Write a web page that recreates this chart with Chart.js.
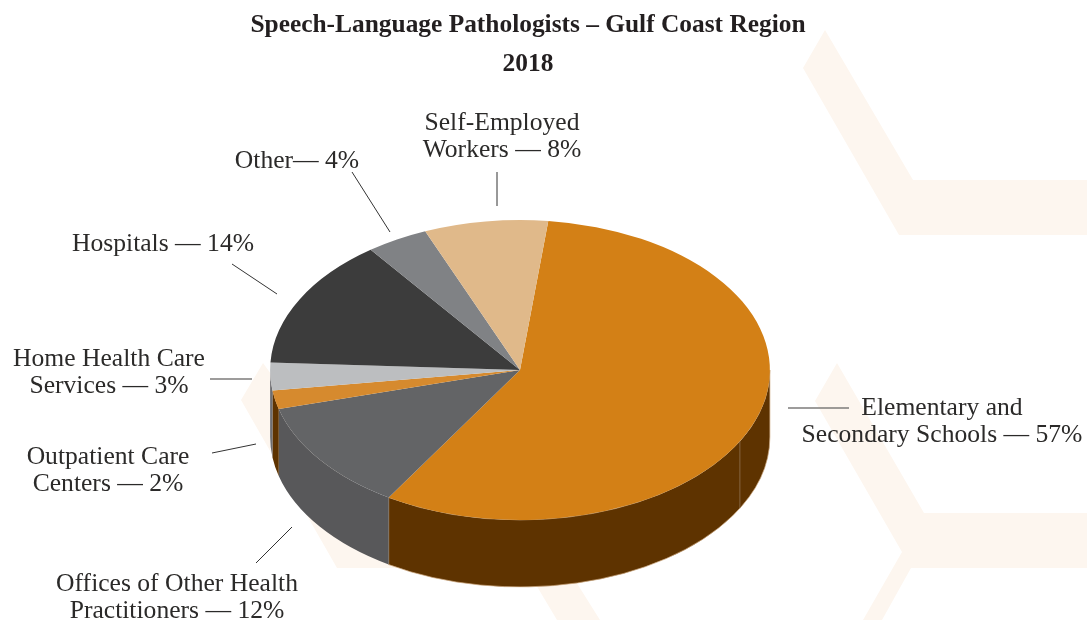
<!DOCTYPE html>
<html>
<head>
<meta charset="utf-8">
<title>Speech-Language Pathologists</title>
<script src="https://cdn.jsdelivr.net/npm/chart.js@4/dist/chart.umd.min.js"></script>
<style>
    html, body { margin: 0; padding: 0; background: #fff; }
    #wrap { position: relative; width: 1087px; height: 620px; overflow: hidden; }
    #wrap svg, #wrap canvas { position: absolute; left: 0; top: 0; }
</style>
</head>
<body>
<div id="wrap">
    <svg width="1087" height="620" fill="#fdf6ef">
        <polygon points="825,30 803,68 899,235 1087,235 1087,180 913,180"/>
        <polygon points="837,363 815,401 902,552 863,620 882,620 911,568 1087,568 1087,513 924,513"/>
        <polygon points="263,363 241,400 337,568 526,568 557,620 600,620 556,550 400,550"/>
    </svg>
    <canvas id="chart" width="1087" height="620"></canvas>
</div>
<script>
const categories = [
    'Elementary and Secondary Schools',
    'Offices of Other Health Practitioners',
    'Outpatient Care Centers',
    'Home Health Care Services',
    'Hospitals',
    'Other',
    'Self-Employed Workers'
];
const shares = [57, 12, 2, 3, 14, 4, 8];
const labelLines = [
    ['Elementary and', 'Secondary Schools — 57%'],
    ['Offices of Other Health', 'Practitioners — 12%'],
    ['Outpatient Care', 'Centers — 2%'],
    ['Home Health Care', 'Services — 3%'],
    ['Hospitals — 14%'],
    ['Other— 4%'],
    ['Self-Employed', 'Workers — 8%']
];
const titleLines = ['Speech-Language Pathologists – Gulf Coast Region', '2018'];

const topColors = ['#d38016', '#636466', '#d68a2e', '#bcbec0', '#3c3c3c', '#808285', '#e0b98a'];
const wallColors = ['#5e3300', '#58585a', '#5e3300', '#6d6e71', '#2a2a2a', '#58585a', '#8a6a40'];

// where each label sits: centre x, first baseline, then its leader line
const labelPlaces = [
    {x: 942, y: 415, line: [788, 408, 849, 408], width: 1.6, color: '#7d7b7a'},
    {x: 177, y: 591, line: [256, 563, 292, 527], width: 1, color: '#333'},
    {x: 108, y: 464, line: [212, 453, 256, 444], width: 1, color: '#333'},
    {x: 109, y: 366, line: [210, 379, 252, 379], width: 1.6, color: '#7d7b7a'},
    {x: 163, y: 251, line: [232, 264, 277, 294], width: 1, color: '#333'},
    {x: 297, y: 168, line: [352, 172, 390, 232], width: 1, color: '#333'},
    {x: 502, y: 130, line: [497, 172, 497, 206], width: 1, color: '#333'}
];

const pieCenter = {x: 520, y: 370};
const squash = 0.6;
const depth = 67;
const wallSeamAngle = 0.495;   // the hairline on the right of the side wall

// tilts the flat pie and puts the side wall under it
const tiltPlugin = {
    id: 'tilt',
    beforeDatasetDraw(chart, args) {
        const ctx = chart.ctx;
        const arcs = args.meta.data;
        const first = arcs[0].getProps(['x', 'y']);
        const radius = arcs[0].getProps(['outerRadius']).outerRadius;
        const ry = radius * squash;

        arcs.forEach((arc, i) => {
            const {startAngle, endAngle} = arc.getProps(['startAngle', 'endAngle']);
            // only the part in front (sin > 0) can be seen
            [0, Math.PI * 2].forEach(turn => {
                const from = Math.max(startAngle, turn);
                const to = Math.min(endAngle, turn + Math.PI);
                if (to <= from) return;
                ctx.beginPath();
                ctx.ellipse(pieCenter.x, pieCenter.y, radius, ry, 0, from, to);
                ctx.ellipse(pieCenter.x, pieCenter.y + depth, radius, ry, 0, to, from, true);
                ctx.closePath();
                ctx.fillStyle = wallColors[i];
                ctx.fill();
                if (i === 0) {
                    ctx.strokeStyle = '#c9a37a';
                    ctx.lineWidth = 0.7;
                    ctx.stroke();
                }
            });
        });

        const seamX = pieCenter.x + radius * Math.cos(wallSeamAngle);
        const seamY = pieCenter.y + ry * Math.sin(wallSeamAngle);
        ctx.beginPath();
        ctx.moveTo(seamX, seamY);
        ctx.lineTo(seamX, seamY + depth);
        ctx.strokeStyle = '#8f7350';
        ctx.lineWidth = 0.8;
        ctx.stroke();

        ctx.save();
        ctx.translate(pieCenter.x, pieCenter.y);
        ctx.scale(1, squash);
        ctx.translate(-first.x, -first.y);
    },
    afterDatasetDraw(chart) {
        chart.ctx.restore();
    }
};

const labelPlugin = {
    id: 'sliceLabels',
    afterDraw(chart) {
        const ctx = chart.ctx;
        ctx.save();
        ctx.textAlign = 'center';
        ctx.textBaseline = 'alphabetic';
        ctx.font = '25.6px "Liberation Serif"';
        labelLines.forEach((lines, i) => {
            const place = labelPlaces[i];
            ctx.fillStyle = '#2b2a29';
            lines.forEach((text, n) => ctx.fillText(text, place.x, place.y + n * 27));
            ctx.beginPath();
            ctx.moveTo(place.line[0], place.line[1]);
            ctx.lineTo(place.line[2], place.line[3]);
            ctx.lineWidth = place.width;
            ctx.strokeStyle = place.color;
            ctx.stroke();
        });
        ctx.restore();
    }
};

new Chart(document.getElementById('chart'), {
    type: 'pie',
    data: {
        labels: categories,
        datasets: [{
            data: shares,
            backgroundColor: topColors,
            borderWidth: 0,
            clip: false
        }]
    },
    options: {
        responsive: false,
        animation: false,
        rotation: 6.5,
        layout: {padding: {left: 238, right: 269, top: 6, bottom: 36}},
        plugins: {
            legend: {display: false},
            tooltip: {enabled: false},
            title: {
                display: true,
                text: titleLines,
                color: '#231f20',
                font: {family: '"Liberation Serif"', size: 25.4, weight: 'bold', lineHeight: 1.54},
                padding: 0
            }
        }
    },
    plugins: [tiltPlugin, labelPlugin]
});
</script>
</body>
</html>
